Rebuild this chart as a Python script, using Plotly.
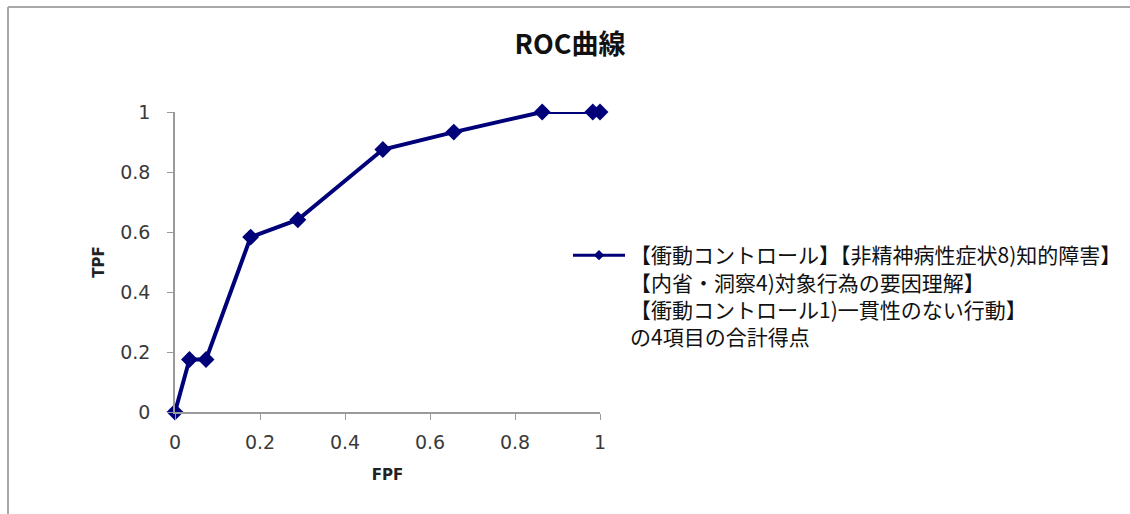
import plotly.graph_objects as go

# ROC curve points (false positive fraction vs. true positive fraction)
fpf = [0.0, 0.034, 0.073, 0.178, 0.289, 0.489, 0.656, 0.864, 0.983, 1.0]
tpf = [0.0, 0.175, 0.175, 0.583, 0.641, 0.875, 0.933, 1.0, 1.0, 1.0]

series_name = ("【衝動コントロール】【非精神病性症状8)知的障害】<br>"
               "【内省・洞察4)対象行為の要因理解】<br>"
               "【衝動コントロール1)一貫性のない行動】<br>"
               "の4項目の合計得点")
tick_vals = [0, 0.2, 0.4, 0.6, 0.8, 1]
tick_text = ["0", "0.2", "0.4", "0.6", "0.8", "1"]

navy = "#000078"
axis_grey = "#9a9a9a"

W, H = 1130, 514
L, R, T, B = 175, 530, 112, 102

fig = go.Figure()
fig.add_trace(go.Scatter(
    x=fpf, y=tpf, mode="lines+markers",
    line=dict(color=navy, width=4),
    marker=dict(symbol="diamond", size=13, color=navy),
    cliponaxis=False, showlegend=False, hoverinfo="x+y",
))
# legend entry with a smaller marker
fig.add_trace(go.Scatter(
    x=[None], y=[None], mode="lines+markers", name=series_name,
    line=dict(color=navy, width=3),
    marker=dict(symbol="diamond", size=8, color=navy),
))

axis_font = dict(family="DejaVu Sans", size=19, color="#3a3a3a")
title_font = dict(family="DejaVu Sans", size=15, color="#222222")
fig.update_xaxes(range=[0, 1], tickvals=tick_vals, ticktext=tick_text,
                 showgrid=False, zeroline=False, showline=True,
                 linecolor=axis_grey, linewidth=1.5,
                 ticks="outside", ticklen=6, tickcolor=axis_grey,
                 tickfont=axis_font, ticklabelstandoff=6,
                 title=dict(text="<b>FPF</b>", standoff=18, font=title_font))
fig.update_yaxes(range=[0, 1], tickvals=tick_vals, ticktext=tick_text,
                 showgrid=False, zeroline=False, showline=True,
                 linecolor=axis_grey, linewidth=1.5,
                 ticks="outside", ticklen=6, tickcolor=axis_grey,
                 tickfont=axis_font, ticklabelstandoff=13,
                 title=dict(text="<b>TPF</b>", standoff=12, font=title_font))

# chart-area frame (top and left edges), in whole-figure pixel terms
cx = lambda p: p / W
cy = lambda p: 1 - p / H
frame = dict(color="#a8a8a8", width=2)
px_x = lambda p: (p - L) / (W - L - R)
px_y = lambda p: (H - B - p) / (H - T - B)
fig.add_shape(type="line", xref="paper", yref="paper",
              x0=px_x(8), x1=px_x(W + 5), y0=px_y(7), y1=px_y(7), line=frame)
fig.add_shape(type="line", xref="paper", yref="paper",
              x0=px_x(8), x1=px_x(8), y0=px_y(7), y1=px_y(H + 5), line=frame)

fig.update_layout(
    width=W, height=H,
    margin=dict(l=L, r=R, t=T, b=B, autoexpand=False),
    paper_bgcolor="white", plot_bgcolor="white",
    title=dict(text="<b>ROC曲線</b>", x=cx(570), xanchor="center",
               xref="container", y=cy(45), yref="container", yanchor="middle",
               font=dict(family="Noto Sans CJK JP", size=27, color="#111111")),
    legend=dict(x=cx(568), y=cy(235), xref="container", yref="container",
                xanchor="left", yanchor="top",
                valign="top", itemwidth=52,
                font=dict(family="Noto Sans CJK JP", size=21, color="#111111"),
                bgcolor="rgba(0,0,0,0)"),
)

fig.write_html("out.html")
